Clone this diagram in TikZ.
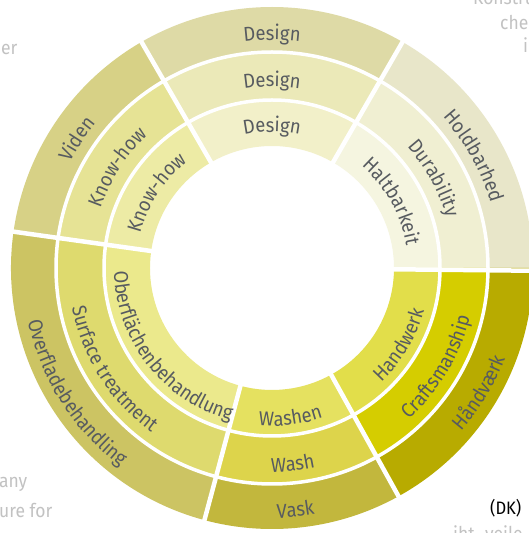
\documentclass[tikz,border=0pt]{standalone}
\usepackage{fontspec}
\setmainfont{Fira Sans}[FakeStretch=0.92]
\usetikzlibrary{decorations.text}
\definecolor{lbl}{HTML}{575B60}
\definecolor{bgtxt}{HTML}{C2C2C2}
\definecolor{desO}{HTML}{DEDAA6}
\definecolor{desM}{HTML}{EBE9B8}
\definecolor{desI}{HTML}{F2F0C9}
\definecolor{holO}{HTML}{E8E6C9}
\definecolor{holM}{HTML}{F0EFD2}
\definecolor{holI}{HTML}{F5F5E0}
\definecolor{vidO}{HTML}{D7D186}
\definecolor{vidM}{HTML}{E6E395}
\definecolor{vidI}{HTML}{EDEBA5}
\definecolor{ovO}{HTML}{CCC463}
\definecolor{ovM}{HTML}{DEDA6E}
\definecolor{ovI}{HTML}{EBE98C}
\definecolor{vaO}{HTML}{C2B73D}
\definecolor{vaM}{HTML}{DDD44B}
\definecolor{vaI}{HTML}{E5E160}
\definecolor{haO}{HTML}{B8AB00}
\definecolor{haM}{HTML}{D5CD00}
\definecolor{haI}{HTML}{E2DE4A}
\newcommand\lblfont{\fontsize{20}{20}\selectfont}
% annular sector: a1, a2, rin, rout, colour
\newcommand\ringsector[5]{%
  \fill[#5] (#1:#3pt) arc[start angle=#1,end angle=#2,radius=#3pt]
    -- (#2:#4pt) arc[start angle=#2,end angle=#1,radius=#4pt] -- cycle;}
% clockwise label (upper half): centre angle, baseline radius, text
\newcommand\cwlabel[3]{%
  \path[decorate,decoration={text along path,text align=center,
    text={|\lblfont\color{lbl}|#3}}]
    (#1+60:#2pt) arc[start angle=#1+60,end angle=#1-60,radius=#2pt];}
% counter-clockwise label (lower half)
\newcommand\ccwlabel[3]{%
  \path[decorate,decoration={text along path,text align=center,
    text={|\lblfont\color{lbl}|#3}}]
    (#1-60:#2pt) arc[start angle=#1-60,end angle=#1+60,radius=#2pt];}
\tikzset{
  bg/.style={font=\fontsize{19}{19}\selectfont,text=bgtxt,inner sep=0pt},
  sep/.style={draw=white,line width=4.5pt},
  ringgap/.style={draw=white,line width=3.5pt}
}
\begin{document}
\begin{tikzpicture}[x=1pt,y=1pt]
\useasboundingbox (0,0) rectangle (529,533);
\clip (0,0) rectangle (529,533);
\fill[white] (0,0) rectangle (529,533);
% surrounding page text
\node[bg,anchor=base east] (t1) at (17.5,478) {er};
\node[bg,anchor=base west] (t2) at (473,528) {Konstruktion};
\node[bg,anchor=base west] (t3) at (500,503) {che};
\node[bg,anchor=base west] (t4) at (523,480) {i};
\node[bg,anchor=base east] (t5) at (27.5,45) {any};
\node[bg,anchor=base east] (t6) at (52.5,16) {ure for};
\node[bg,anchor=base west] (t7) at (453,-7) {iht. vejle};
\node[font=\fontsize{18}{18}\selectfont,text=black,inner sep=0pt,anchor=base west] (dk) at (490,18) {(DK)};
\begin{scope}[shift={(272,265)}]
  % outer ring
  \ringsector{60}{120}{214}{261}{desO}
  \ringsector{0}{60}{214}{261}{holO}
  \ringsector{120}{172}{214}{261}{vidO}
  \ringsector{172}{255}{214}{261}{ovO}
  \ringsector{255}{299}{214}{261}{vaO}
  \ringsector{-61}{0}{214}{261}{haO}
  % middle ring
  \ringsector{60}{120}{168}{217}{desM}
  \ringsector{0}{60}{168}{217}{holM}
  \ringsector{120}{172}{168}{217}{vidM}
  \ringsector{172}{255}{168}{217}{ovM}
  \ringsector{255}{299}{168}{217}{vaM}
  \ringsector{-61}{0}{168}{217}{haM}
  % inner ring
  \ringsector{60}{120}{122}{169}{desI}
  \ringsector{0}{60}{122}{169}{holI}
  \ringsector{120}{172}{122}{169}{vidI}
  \ringsector{172}{255}{122}{169}{ovI}
  \ringsector{255}{299}{122}{169}{vaI}
  \ringsector{-61}{0}{122}{169}{haI}
  % white gaps
  \draw[ringgap] (0,0) circle[radius=168pt];
  \draw[ringgap] (0,0) circle[radius=216pt];
  \foreach \a in {-0.6,60,120,172,255,299}
    \draw[sep] (\a:118pt) -- (\a:265pt);
  % labels
  \cwlabel{90}{228}{Design}
  \cwlabel{90}{181.5}{Design}
  \cwlabel{90}{136}{Design}
  \cwlabel{29}{228}{Holdbarhed}
  \cwlabel{29}{181.5}{Durability}
  \cwlabel{29}{136}{Haltbarkeit}
  \cwlabel{146.5}{228}{Viden}
  \cwlabel{147}{181.5}{Know-how}
  \cwlabel{147}{136}{Know-how}
  \ccwlabel{212.5}{250}{Overfladebehandling}
  \ccwlabel{212.5}{204}{Surface treatment}
  \ccwlabel{218}{158}{Oberflächenbehandlung}
  \ccwlabel{275.5}{250}{Vask}
  \ccwlabel{276}{204}{Wash}
  \ccwlabel{277}{158}{Washen}
  \ccwlabel{-31}{250}{Håndværk}
  \ccwlabel{-31}{204}{Craftsmanship}
  \ccwlabel{-31}{158}{Handwerk}
\end{scope}
\end{tikzpicture}
\end{document}
